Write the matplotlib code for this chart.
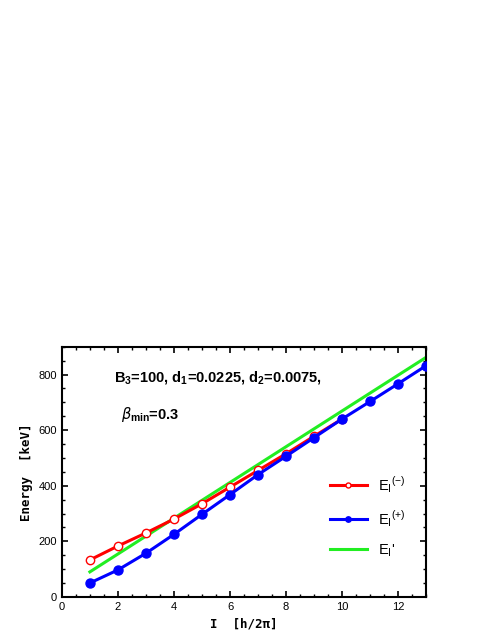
import matplotlib
matplotlib.use("Agg")
import matplotlib.pyplot as plt
from matplotlib.ticker import MultipleLocator

plt.rcParams["font.family"] = ["Liberation Sans", "DejaVu Sans"]
plt.rcParams["mathtext.fontset"] = "custom"
plt.rcParams["mathtext.rm"] = "Liberation Sans"
plt.rcParams["mathtext.bf"] = "Liberation Sans:bold"

I_minus = [1, 2, 3, 4, 5, 6, 7, 8, 9, 10]
E_minus = [133, 183, 230, 280, 335, 395, 455, 515, 578, 640]
I_plus = [1, 2, 3, 4, 5, 6, 7, 8, 9, 10, 11, 12, 13]
E_plus = [50, 97, 157, 225, 297, 368, 440, 506, 573, 640, 703, 767, 832]
I_prime = [1, 13]
E_prime = [90, 862]

fig = plt.figure(figsize=(4.91, 6.35), dpi=100)
ax = fig.add_axes([0.126, 0.06, 0.742, 0.394])
ax.plot(I_prime, E_prime, color="#22ee22", lw=2.2, label=r"$\mathrm{E_I}$'", zorder=2)
ax.plot(I_minus, E_minus, color="red", lw=2.2, marker="o", ms=6, mfc="white", mec="red",
        label=r"$\mathrm{E_I}^{(-)}$", zorder=3)
ax.plot(I_plus, E_plus, color="blue", lw=2.2, marker="o", ms=6.5, mfc="blue", mec="blue",
        label=r"$\mathrm{E_I}^{(+)}$", zorder=4)
ax.set_xlim(0, 13)
ax.set_ylim(0, 900)
ax.xaxis.set_major_locator(MultipleLocator(2))
ax.xaxis.set_minor_locator(MultipleLocator(0.5))
ax.yaxis.set_major_locator(MultipleLocator(200))
ax.yaxis.set_minor_locator(MultipleLocator(50))
ax.tick_params(which="both", direction="in", top=True, right=True, labelsize=8)
ax.tick_params(which="major", length=4, width=1.2)
ax.tick_params(which="minor", length=2.5, width=1)
for s in ax.spines.values():
    s.set_linewidth(1.5)
ax.set_xlabel("I  [h/2\u03c0]", family="monospace", fontweight="bold", fontsize=9)
ax.set_ylabel("Energy  [keV]", family="monospace", fontweight="bold", fontsize=9)
ax.text(1.85, 790, r"$\mathbf{B_3}$=100, $\mathbf{d_1}$=0.0225, $\mathbf{d_2}$=0.0075,",
        fontsize=10.5, fontweight="bold", va="center")
ax.text(2.1, 655, r"$\beta_{\mathbf{min}}$=0.3", fontsize=10.5, fontweight="bold", va="center")
h, l = ax.get_legend_handles_labels()
ax.legend([h[1], h[2], h[0]], [l[1], l[2], l[0]], loc="lower right", bbox_to_anchor=(0.98, 0.1),
          frameon=False, fontsize=10.5, handlelength=2.5, markerscale=0.6, labelspacing=0.9)
fig.savefig("out.png", dpi=100)
